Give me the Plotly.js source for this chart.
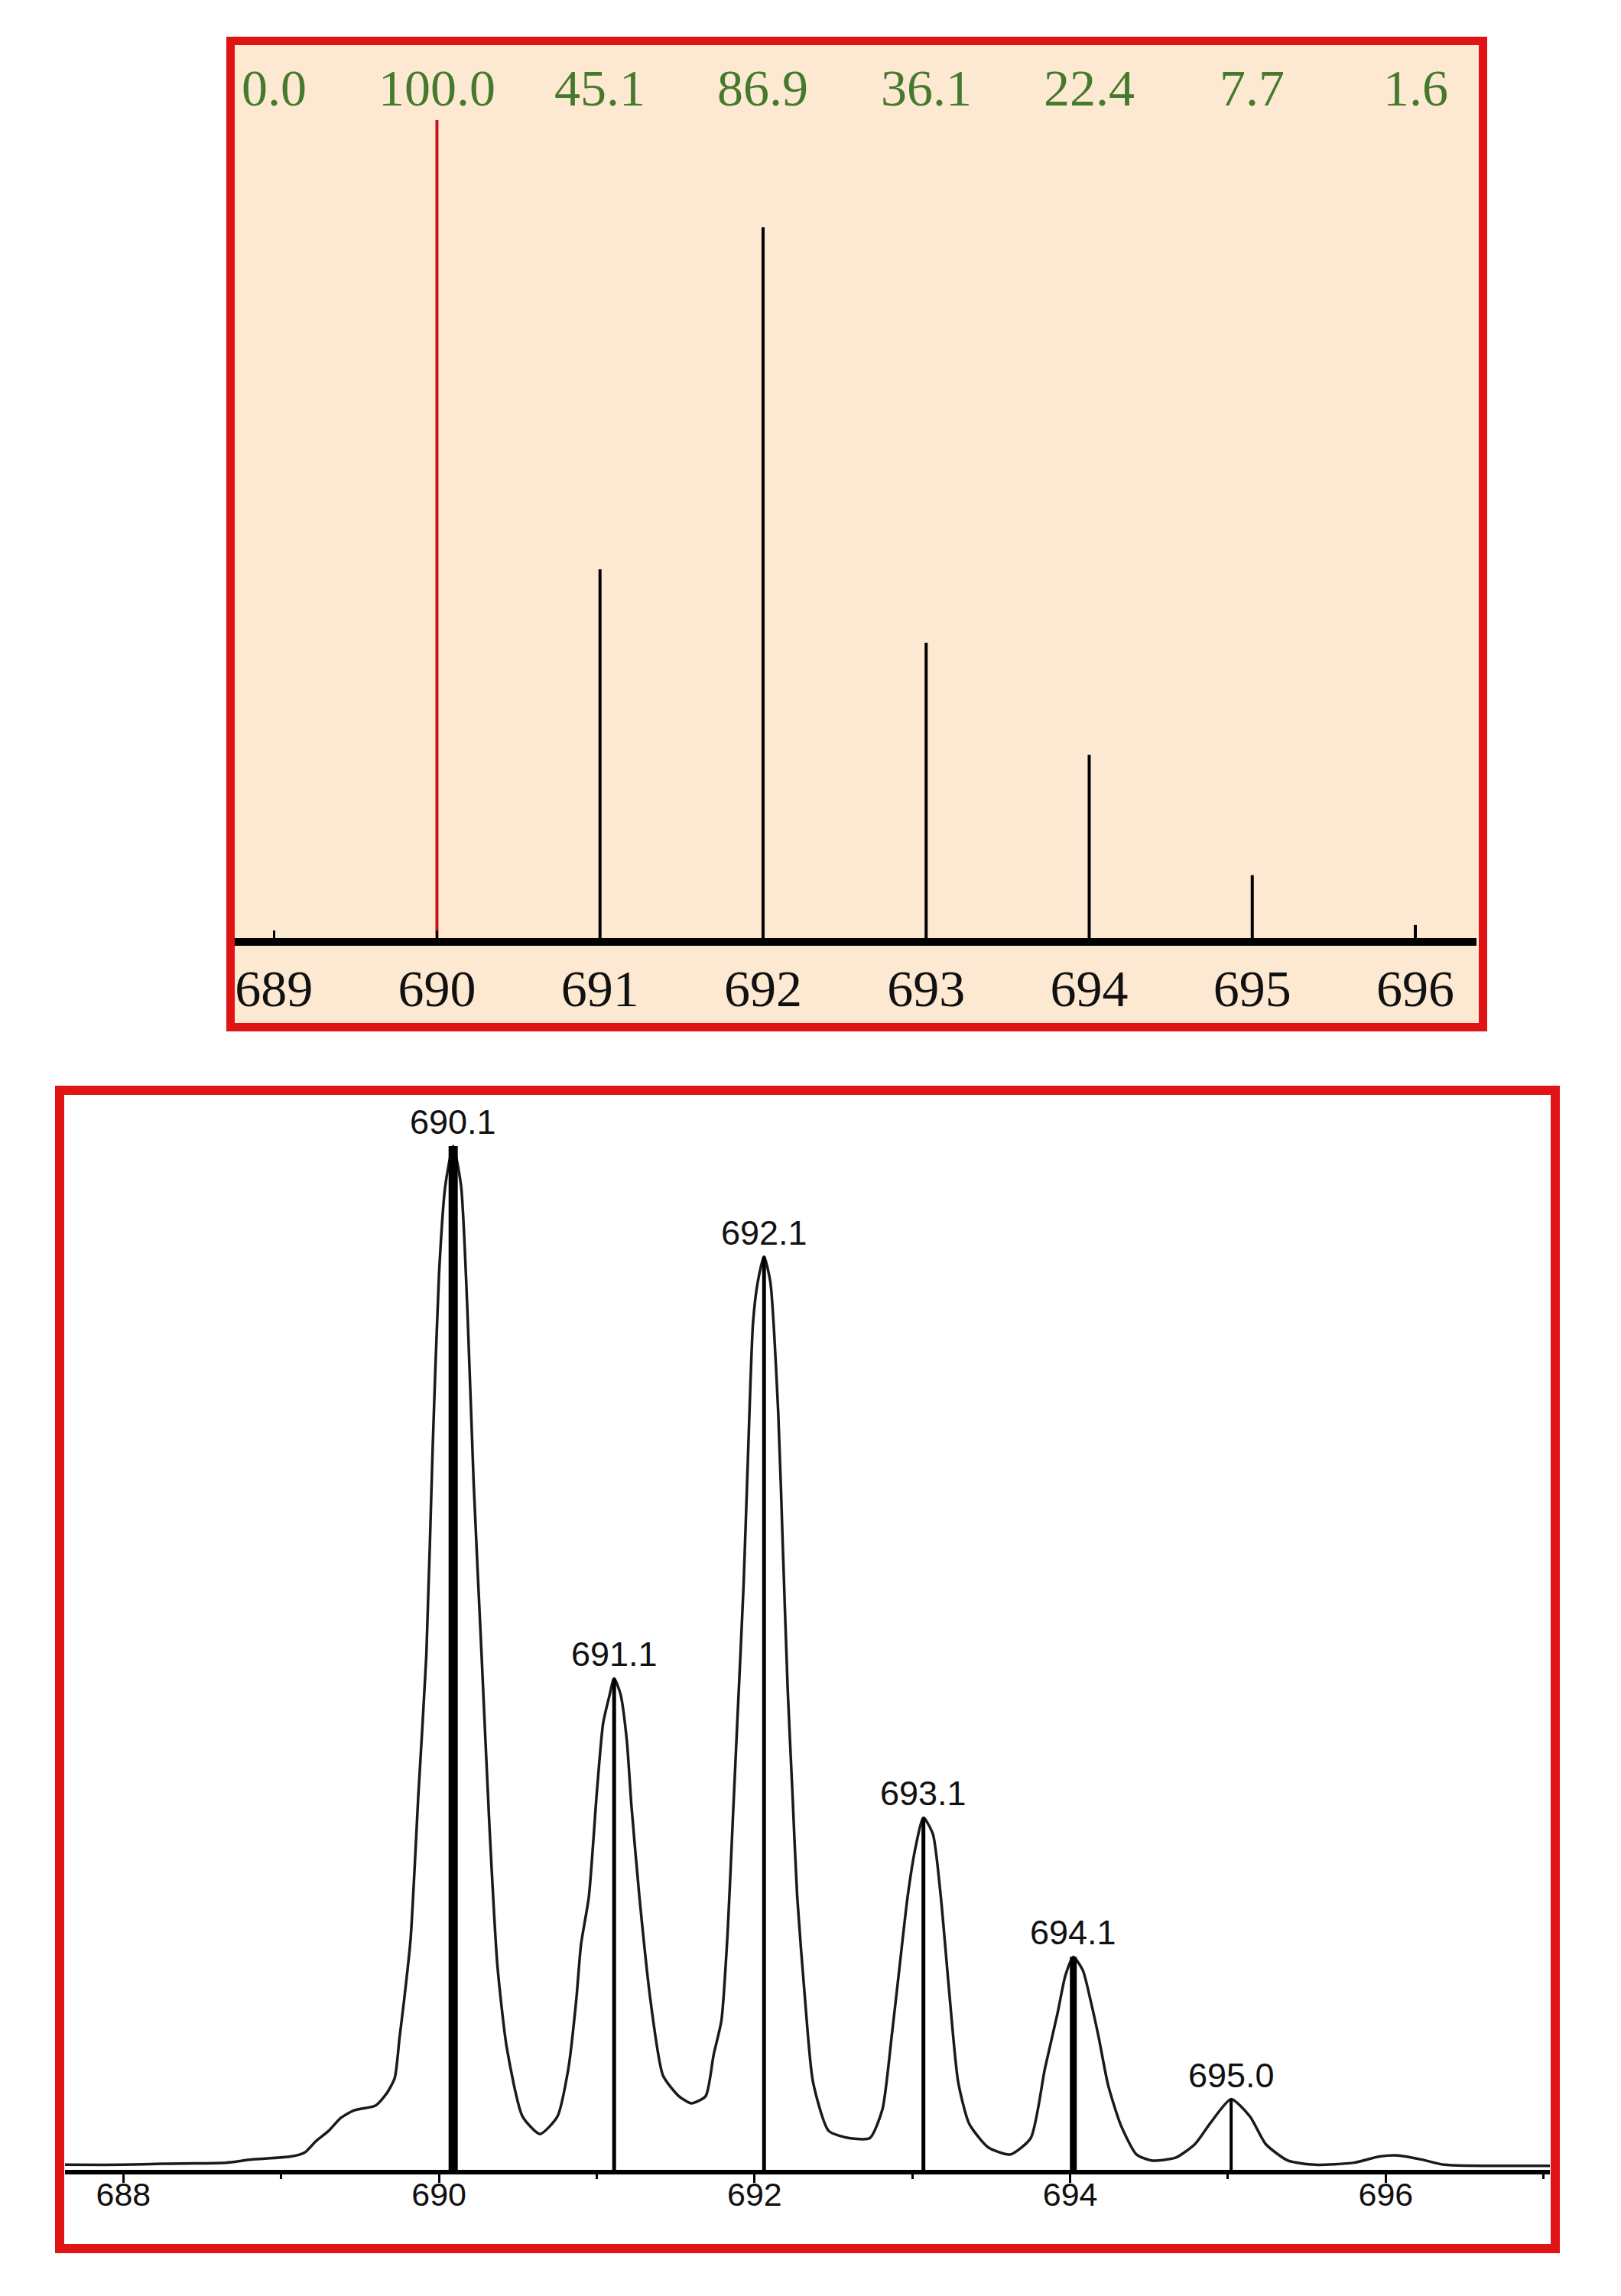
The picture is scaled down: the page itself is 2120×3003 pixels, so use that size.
<!DOCTYPE html>
<html>
<head>
<meta charset="utf-8">
<script src="https://cdn.plot.ly/plotly-3.0.1.min.js"></script>
<style>
  html, body { margin: 0; padding: 0; background: #ffffff; }
  #plot { width: 2120px; height: 3003px; }
</style>
</head>
<body>
<div id="plot"></div>
<script>
document.addEventListener("DOMContentLoaded", function(event) {

  // theoretical isotope pattern (top panel)
  const patternMass = [689, 690, 691, 692, 693, 694, 695, 696];
  const patternAbundance = [0.0, 100.0, 45.1, 86.9, 36.1, 22.4, 7.7, 1.6];

  const profileMass = [
    687.63, 688.00, 688.25, 688.65, 688.81, 689.06, 689.15, 689.22, 689.30, 689.38,
    689.46, 689.60, 689.67, 689.72, 689.75, 689.78, 689.82, 689.87, 689.92, 689.96,
    690.00, 690.04, 690.09, 690.14, 690.18, 690.22, 690.27, 690.32, 690.37, 690.43,
    690.53, 690.64, 690.75, 690.82, 690.87, 690.90, 690.95, 691.00, 691.04, 691.08,
    691.11, 691.15, 691.19, 691.22, 691.27, 691.34, 691.42, 691.52, 691.60, 691.69,
    691.74, 691.79, 691.83, 691.86, 691.89, 691.93, 691.96, 691.99, 692.02, 692.06,
    692.10, 692.15, 692.18, 692.21, 692.24, 692.27, 692.32, 692.37, 692.47, 692.60,
    692.73, 692.81, 692.87, 692.92, 692.97, 693.02, 693.07, 693.13, 693.18, 693.23,
    693.29, 693.36, 693.48, 693.62, 693.75, 693.84, 693.92, 693.97, 694.02, 694.08,
    694.13, 694.18, 694.24, 694.32, 694.42, 694.52, 694.67, 694.79, 694.89, 695.02,
    695.14, 695.24, 695.38, 695.55, 695.80, 695.96, 696.08, 696.23, 696.37, 697.04
  ];
  const profileIntensity = [
    0.5, 0.5, 0.6, 0.7, 1.0, 1.3, 1.7, 2.8, 3.8, 5.1,
    5.8, 6.3, 7.5, 9.0, 12.9, 16.7, 22.5, 36.8, 50.3, 70.5,
    87.4, 96.1, 100.0, 96.1, 84.0, 67.0, 50.3, 33.5, 20.0, 11.9,
    5.2, 3.5, 5.2, 9.9, 16.6, 22.0, 26.7, 36.8, 43.6, 46.3,
    48.0, 46.5, 42.0, 35.5, 26.7, 16.6, 9.2, 7.2, 6.5, 7.2,
    11.2, 14.6, 23.4, 33.5, 43.6, 57.0, 70.5, 82.7, 86.7, 89.2,
    86.7, 73.9, 60.4, 46.9, 36.8, 26.7, 16.6, 8.6, 3.8, 3.1,
    3.1, 5.9, 13.2, 20.0, 26.7, 31.5, 34.4, 32.8, 26.7, 18.0,
    8.6, 4.5, 2.2, 1.5, 3.1, 9.9, 15.3, 19.0, 20.8, 19.5,
    16.5, 13.0, 8.3, 4.4, 1.5, 0.9, 1.2, 2.5, 4.6, 6.9,
    5.2, 2.5, 0.9, 0.5, 0.7, 1.3, 1.4, 1.0, 0.5, 0.4
  ];

  // centroided peaks with their labels
  const peakMass = [690.09, 691.11, 692.06, 693.07, 694.02, 695.02];
  const peakIntensity = [100.0, 48.0, 89.2, 34.4, 20.8, 6.9];
  const peakLabels = ['690.1', '691.1', '692.1', '693.1', '694.1', '695.0'];

  const stickWidths = [12, 5, 5, 5, 9, 4];
  const peach = '#fde9d2';
  const frameRed = '#e01414';
  const labelGreen = '#457a2e';

  const W = 2120, H = 3003;
  const px = x => x / W;
  const py = y => 1 - y / H;

  const maxAbundance = Math.max.apply(null, patternAbundance);

  const patternTraces = patternMass.map(function(m, i) {
    return {
      x: [m, m],
      y: [0, patternAbundance[i]],
      xaxis: 'x', yaxis: 'y',
      mode: 'lines',
      type: 'scatter',
      line: {
        color: patternAbundance[i] === maxAbundance ? '#c8161c' : '#000000',
        width: 4
      },
      hoverinfo: 'skip'
    };
  });

  const profileTrace = {
    x: profileMass,
    y: profileIntensity,
    xaxis: 'x2', yaxis: 'y2',
    mode: 'lines',
    type: 'scatter',
    line: { color: '#1a1a1a', width: 3.5, shape: 'spline', smoothing: 0.6 },
    hoverinfo: 'skip'
  };

  const peakTraces = peakMass.map(function(m, i) {
    return {
      x: [m, m],
      y: [0, peakIntensity[i]],
      xaxis: 'x2', yaxis: 'y2',
      mode: 'lines',
      type: 'scatter',
      line: { color: '#000000', width: stickWidths[i] },
      hoverinfo: 'skip'
    };
  });

  const data = patternTraces.concat([profileTrace], peakTraces);

  // green abundance labels above the top panel
  const abundanceNotes = patternMass.map(function(m, i) {
    return {
      x: m, xref: 'x',
      y: py(115), yref: 'paper',
      text: patternAbundance[i].toFixed(1),
      showarrow: false,
      xanchor: 'center', yanchor: 'middle',
      font: { family: 'Liberation Serif', size: 68, color: labelGreen }
    };
  });

  const peakNotes = peakMass.map(function(m, i) {
    return {
      x: m, xref: 'x2',
      y: peakIntensity[i], yref: 'y2',
      text: peakLabels[i],
      showarrow: false,
      xanchor: 'center', yanchor: 'bottom',
      yshift: 4,
      font: { family: 'Liberation Sans', size: 45, color: '#111111' }
    };
  });

  const layout = {
    width: W,
    height: H,
    margin: { l: 0, r: 0, t: 0, b: 0 },
    paper_bgcolor: '#ffffff',
    plot_bgcolor: 'rgba(0,0,0,0)',
    showlegend: false,
    xaxis: {
      domain: [px(307), px(1931)],
      range: [688.76, 696.375],
      anchor: 'y',
      tickmode: 'array',
      tickvals: patternMass,
      ticktext: patternMass.map(String),
      ticks: 'inside', ticklen: 10, tickwidth: 3, tickcolor: '#000000',
      showline: true, linewidth: 10, linecolor: '#000000',
      showgrid: false, zeroline: false,
      ticklabelstandoff: -3,
      tickfont: { family: 'Liberation Serif', size: 68, color: '#111111' }
    },
    yaxis: {
      domain: [py(1227), py(70)],
      range: [0, 108.13],
      anchor: 'x',
      visible: false
    },
    xaxis2: {
      domain: [px(85), px(2027)],
      range: [687.63, 697.04],
      anchor: 'y2',
      tickmode: 'linear', tick0: 688, dtick: 2,
      ticks: 'outside', ticklen: 11, tickwidth: 3, tickcolor: '#000000',
      minor: { dtick: 1, ticks: 'outside', ticklen: 6, tickwidth: 3, tickcolor: '#000000' },
      showline: true, linewidth: 6, linecolor: '#000000',
      showgrid: false, zeroline: false,
      ticklabelstandoff: -22,
      tickfont: { family: 'Liberation Sans', size: 43, color: '#111111' }
    },
    yaxis2: {
      domain: [py(2838), py(1440)],
      range: [0, 104.4],
      anchor: 'x2',
      visible: false
    },
    shapes: [
      {
        type: 'rect', xref: 'paper', yref: 'paper', layer: 'below',
        x0: px(301.5), x1: px(1939.5), y0: py(1343.5), y1: py(53.5),
        fillcolor: peach,
        line: { color: frameRed, width: 11 }
      },
      {
        type: 'rect', xref: 'paper', yref: 'paper', layer: 'below',
        x0: px(78), x1: px(2034), y0: py(2941), y1: py(1426),
        fillcolor: '#ffffff',
        line: { color: frameRed, width: 12 }
      }
    ],
    annotations: abundanceNotes.concat(peakNotes)
  };

  Plotly.newPlot('plot', data, layout, { displayModeBar: false, staticPlot: true });

});
</script>
</body>
</html>
